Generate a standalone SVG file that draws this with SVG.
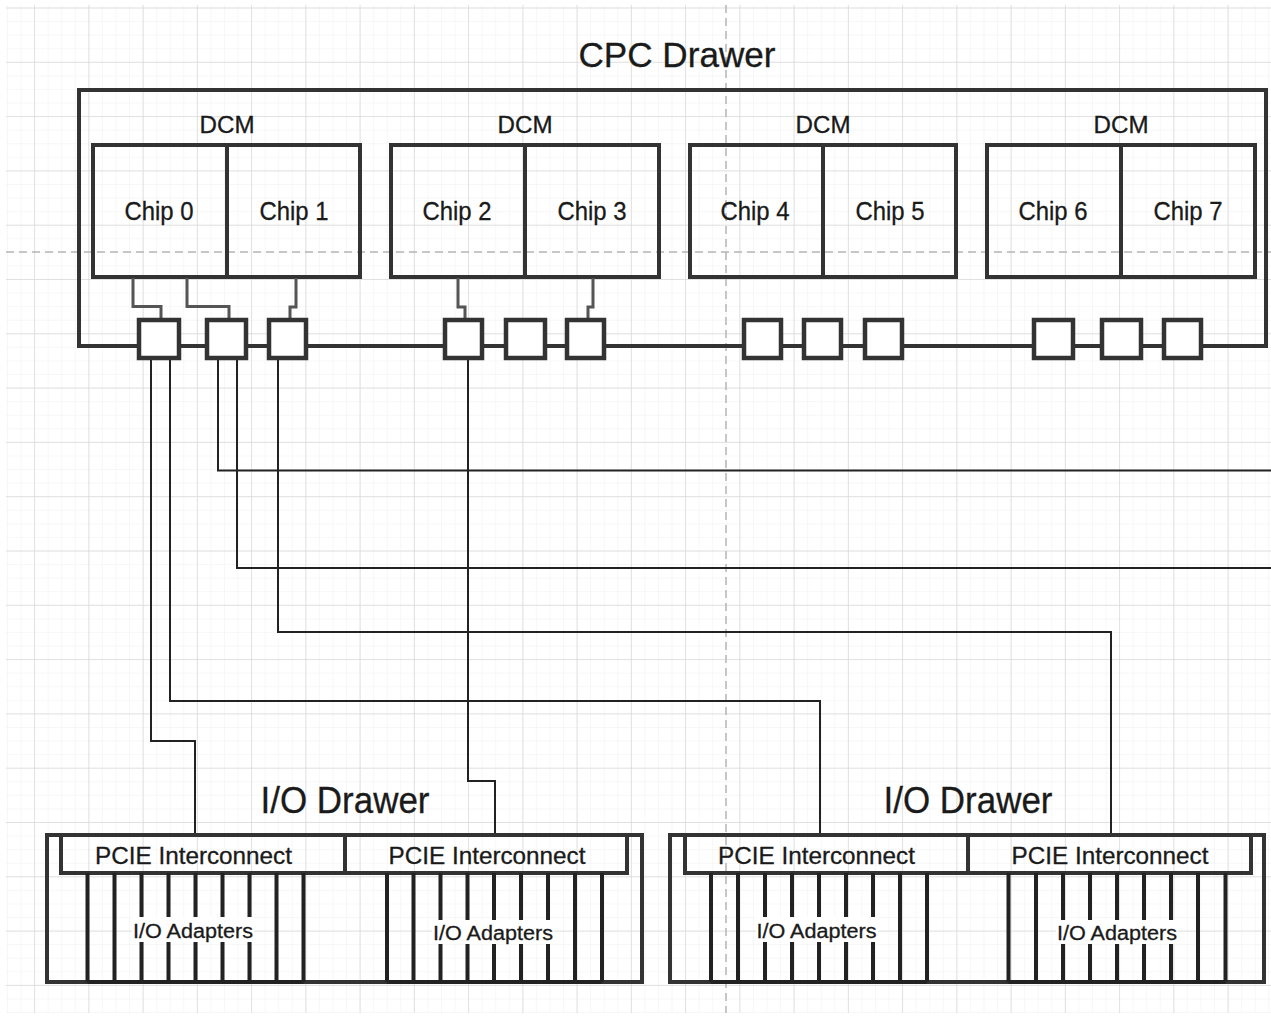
<svg xmlns="http://www.w3.org/2000/svg" width="1271" height="1016" viewBox="0 0 1271 1016">
<style>
.t{font-family:"Liberation Sans",Arial,sans-serif;fill:#1a1a1a;text-anchor:middle;stroke:#1a1a1a;stroke-width:0.3}
.box{fill:#fff;stroke:#333;stroke-width:4.5}
.chip{fill:none;stroke:#333;stroke-width:4}
.frame{fill:none;stroke:#333;stroke-width:4}
.conn{fill:none;stroke:#222;stroke-width:2}
.gconn{fill:none;stroke:#555;stroke-width:3}
.div{stroke:#222;stroke-width:4}
.pb{stroke:#b5b5b5;stroke-width:1.5;stroke-dasharray:8 5;fill:none}
</style>
<defs>
<pattern id="minor" patternUnits="userSpaceOnUse" x="34.1" y="7.5" width="13.5625" height="13.575">
<path d="M0 0H13.5625M0 0V13.575" fill="none" stroke="#efefef" stroke-width="1"/>
</pattern>
<pattern id="major" patternUnits="userSpaceOnUse" x="34.1" y="7.5" width="54.25" height="54.3">
<path d="M0 0H54.25M0 0V54.3" fill="none" stroke="#d9d9d9" stroke-width="1.5"/>
</pattern>
</defs>
<rect width="1271" height="1016" fill="#fff"/>
<rect x="6" y="5" width="1265" height="1008" fill="url(#minor)"/>
<rect x="6" y="5" width="1265" height="1008" fill="url(#major)"/>
<g id="page-breaks">
<line class="pb" x1="6" y1="252" x2="1271" y2="252"/>
<line class="pb" x1="726" y1="5" x2="726" y2="1013"/>
</g>

<g id="cpc-drawer">
<rect class="frame" x="79" y="90" width="1187" height="256"/>
<text class="t" x="677" y="67" font-size="35" textLength="197" lengthAdjust="spacingAndGlyphs">CPC Drawer</text>
</g>

<g id="dcm-1">
<text class="t" x="227" y="133" font-size="24" textLength="55" lengthAdjust="spacingAndGlyphs">DCM</text>
<g id="chip-0"><rect class="chip" x="93" y="145" width="134" height="132"/><text class="t" x="159" y="220" font-size="25" textLength="69" lengthAdjust="spacingAndGlyphs">Chip 0</text></g>
<g id="chip-1"><rect class="chip" x="227" y="145" width="133" height="132"/><text class="t" x="294" y="220" font-size="25" textLength="69" lengthAdjust="spacingAndGlyphs">Chip 1</text></g>
</g>
<g id="dcm-2">
<text class="t" x="525" y="133" font-size="24" textLength="55" lengthAdjust="spacingAndGlyphs">DCM</text>
<g id="chip-2"><rect class="chip" x="391" y="145" width="134" height="132"/><text class="t" x="457" y="220" font-size="25" textLength="69" lengthAdjust="spacingAndGlyphs">Chip 2</text></g>
<g id="chip-3"><rect class="chip" x="525" y="145" width="134" height="132"/><text class="t" x="592" y="220" font-size="25" textLength="69" lengthAdjust="spacingAndGlyphs">Chip 3</text></g>
</g>
<g id="dcm-3">
<text class="t" x="823" y="133" font-size="24" textLength="55" lengthAdjust="spacingAndGlyphs">DCM</text>
<g id="chip-4"><rect class="chip" x="690" y="145" width="133" height="132"/><text class="t" x="755" y="220" font-size="25" textLength="69" lengthAdjust="spacingAndGlyphs">Chip 4</text></g>
<g id="chip-5"><rect class="chip" x="823" y="145" width="133" height="132"/><text class="t" x="890" y="220" font-size="25" textLength="69" lengthAdjust="spacingAndGlyphs">Chip 5</text></g>
</g>
<g id="dcm-4">
<text class="t" x="1121" y="133" font-size="24" textLength="55" lengthAdjust="spacingAndGlyphs">DCM</text>
<g id="chip-6"><rect class="chip" x="987" y="145" width="134" height="132"/><text class="t" x="1053" y="220" font-size="25" textLength="69" lengthAdjust="spacingAndGlyphs">Chip 6</text></g>
<g id="chip-7"><rect class="chip" x="1121" y="145" width="134" height="132"/><text class="t" x="1188" y="220" font-size="25" textLength="69" lengthAdjust="spacingAndGlyphs">Chip 7</text></g>
</g>

<g id="connectors">
<path class="gconn" d="M133 278V306.5H161V320"/>
<path class="gconn" d="M187 278V306.5H229V320"/>
<path class="gconn" d="M296 278V307H290V320"/>
<path class="gconn" d="M458 278V307H465V320"/>
<path class="gconn" d="M593 278V307H588V320"/>
<path class="conn" d="M151 358V741H195V835"/>
<path class="conn" d="M170 358V701H820V835"/>
<path class="conn" d="M218 358V470.5H1271"/>
<path class="conn" d="M237 358V568H1271"/>
<path class="conn" d="M278 358V632H1111V835"/>
<path class="conn" d="M468 358V781H495V835"/>
</g>

<g id="fanouts">
<rect id="fo-1" class="box" x="139" y="320" width="40" height="38"/>
<rect id="fo-2" class="box" x="207" y="320" width="39" height="38"/>
<rect id="fo-3" class="box" x="269" y="320" width="37" height="38"/>
<rect id="fo-4" class="box" x="445" y="320" width="37" height="38"/>
<rect id="fo-5" class="box" x="506" y="320" width="39" height="38"/>
<rect id="fo-6" class="box" x="567" y="320" width="37" height="38"/>
<rect id="fo-7" class="box" x="744" y="320" width="37" height="38"/>
<rect id="fo-8" class="box" x="804" y="320" width="37" height="38"/>
<rect id="fo-9" class="box" x="865" y="320" width="37" height="38"/>
<rect id="fo-10" class="box" x="1034" y="320" width="39" height="38"/>
<rect id="fo-11" class="box" x="1102" y="320" width="39" height="38"/>
<rect id="fo-12" class="box" x="1164" y="320" width="37" height="38"/>
</g>

<g id="io-drawer-1">
<rect class="frame" x="47" y="835" width="595" height="147"/>
<text class="t" x="345" y="813" font-size="36" textLength="169" lengthAdjust="spacingAndGlyphs">I/O Drawer</text>
<g id="pcie-1">
<rect class="frame" x="61" y="835" width="284" height="38"/>
<text class="t" x="193.5" y="864" font-size="24" textLength="197" lengthAdjust="spacingAndGlyphs">PCIE Interconnect</text>
</g>
<g id="adapters-1">
<path class="div" d="M87.5 873V982M114.5 873V982M141.5 873V982M168.5 873V982M195.5 873V982M222.5 873V982M249.5 873V982M276.5 873V982M303.5 873V982M87.5 982H303.5"/>
<rect x="132" y="917" width="122" height="25" fill="#fff"/>
<text class="t" x="193" y="938" font-size="20" textLength="120" lengthAdjust="spacingAndGlyphs">I/O Adapters</text>
</g>
<g id="pcie-2">
<rect class="frame" x="345" y="835" width="282" height="38"/>
<text class="t" x="487" y="864" font-size="24" textLength="197" lengthAdjust="spacingAndGlyphs">PCIE Interconnect</text>
</g>
<g id="adapters-2">
<path class="div" d="M387 873V982M413.5 873V982M440.5 873V982M467.5 873V982M494 873V982M521 873V982M548 873V982M575 873V982M602 873V982M387 982H602"/>
<rect x="432" y="920" width="122" height="24" fill="#fff"/>
<text class="t" x="493" y="940" font-size="20" textLength="120" lengthAdjust="spacingAndGlyphs">I/O Adapters</text>
</g>
</g>

<g id="io-drawer-2">
<rect class="frame" x="670" y="835" width="594" height="147"/>
<text class="t" x="968" y="813" font-size="36" textLength="169" lengthAdjust="spacingAndGlyphs">I/O Drawer</text>
<g id="pcie-3">
<rect class="frame" x="685" y="835" width="283" height="38"/>
<text class="t" x="816.5" y="864" font-size="24" textLength="197" lengthAdjust="spacingAndGlyphs">PCIE Interconnect</text>
</g>
<g id="adapters-3">
<path class="div" d="M711 873V982M738 873V982M765 873V982M792 873V982M819 873V982M846 873V982M873 873V982M900 873V982M927 873V982M711 982H927"/>
<rect x="756" y="917" width="122" height="25" fill="#fff"/>
<text class="t" x="816.5" y="938" font-size="20" textLength="120" lengthAdjust="spacingAndGlyphs">I/O Adapters</text>
</g>
<g id="pcie-4">
<rect class="frame" x="968" y="835" width="283" height="38"/>
<text class="t" x="1110" y="864" font-size="24" textLength="197" lengthAdjust="spacingAndGlyphs">PCIE Interconnect</text>
</g>
<g id="adapters-4">
<path class="div" d="M1008.5 873V982M1036 873V982M1063 873V982M1090 873V982M1117 873V982M1144 873V982M1171 873V982M1198 873V982M1225.5 873V982M1008.5 982H1225.5"/>
<rect x="1056" y="920" width="122" height="24" fill="#fff"/>
<text class="t" x="1117" y="940" font-size="20" textLength="120" lengthAdjust="spacingAndGlyphs">I/O Adapters</text>
</g>
</g>
</svg>
